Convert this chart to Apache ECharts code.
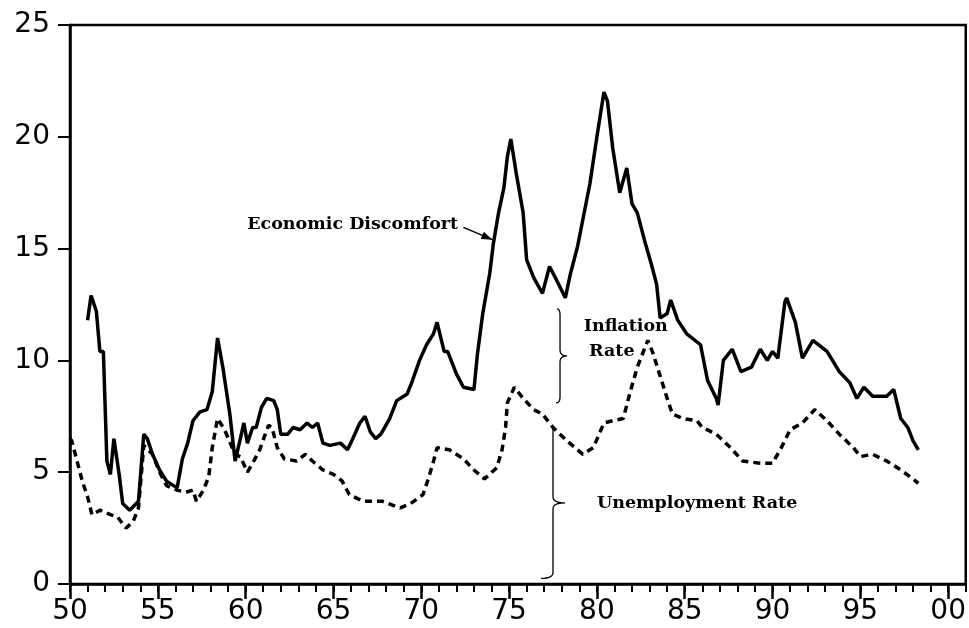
<!DOCTYPE html>
<html>
<head>
<meta charset="utf-8">
<script src="https://cdn.jsdelivr.net/npm/echarts@6/dist/echarts.min.js"></script>
<style>
  html, body { margin: 0; padding: 0; background: #fff; }
  #chart { width: 969px; height: 628px; }
</style>
</head>
<body>
<div id="chart"></div>
<script>
// Economic discomfort = inflation + unemployment (solid line)
const discYears = [51.0, 51.2, 51.5, 51.7, 51.9, 52.1, 52.3, 52.5, 52.8, 53.0, 53.4, 53.9, 54.2, 54.4, 54.7, 55.1, 55.5, 56.1, 56.4, 56.7, 57.0, 57.4, 57.8, 58.1, 58.4, 58.7, 59.1, 59.4, 59.7, 59.9, 60.1, 60.4, 60.6, 60.9, 61.2, 61.6, 61.8, 62.0, 62.4, 62.7, 63.1, 63.5, 63.8, 64.1, 64.4, 64.8, 65.4, 65.8, 66.1, 66.5, 66.8, 67.1, 67.4, 67.7, 68.2, 68.6, 69.2, 69.5, 69.9, 70.3, 70.7, 70.9, 71.3, 71.5, 72.0, 72.4, 73.0, 73.2, 73.5, 73.9, 74.1, 74.4, 74.7, 74.9, 75.1, 75.4, 75.8, 76.0, 76.4, 76.9, 77.3, 77.7, 78.2, 78.5, 78.9, 79.2, 79.6, 80.0, 80.4, 80.6, 80.9, 81.3, 81.7, 82.0, 82.3, 82.7, 83.1, 83.4, 83.6, 84.0, 84.2, 84.6, 85.1, 85.9, 86.3, 86.8, 86.9, 87.2, 87.7, 88.2, 88.8, 89.3, 89.7, 90.0, 90.3, 90.7, 90.8, 91.3, 91.7, 92.3, 93.1, 93.8, 94.4, 94.8, 95.2, 95.7, 96.5, 96.9, 97.3, 97.7, 98.0, 98.3];
const discValues = [11.8, 12.9, 12.2, 10.4, 10.4, 5.5, 4.9, 6.5, 4.9, 3.6, 3.3, 3.7, 6.7, 6.5, 5.8, 5.1, 4.6, 4.3, 5.6, 6.3, 7.3, 7.7, 7.8, 8.6, 11.0, 9.7, 7.6, 5.5, 6.5, 7.2, 6.3, 7.0, 7.0, 7.9, 8.3, 8.2, 7.8, 6.7, 6.7, 7.0, 6.9, 7.2, 7.0, 7.2, 6.3, 6.2, 6.3, 6.0, 6.5, 7.2, 7.5, 6.8, 6.5, 6.7, 7.4, 8.2, 8.5, 9.1, 10.0, 10.7, 11.2, 11.7, 10.4, 10.4, 9.4, 8.8, 8.7, 10.3, 12.1, 13.9, 15.2, 16.6, 17.7, 19.1, 19.9, 18.4, 16.6, 14.5, 13.7, 13.0, 14.2, 13.6, 12.8, 13.9, 15.1, 16.3, 17.9, 20.0, 22.0, 21.6, 19.5, 17.5, 18.6, 17.0, 16.6, 15.4, 14.3, 13.4, 11.9, 12.1, 12.7, 11.8, 11.2, 10.7, 9.1, 8.3, 8.0, 10.0, 10.5, 9.5, 9.7, 10.5, 10.0, 10.4, 10.1, 12.6, 12.8, 11.7, 10.1, 10.9, 10.4, 9.5, 9.0, 8.3, 8.8, 8.4, 8.4, 8.7, 7.4, 7.0, 6.4, 6.0];

// Unemployment rate (dashed line)
const unempYears = [50.0, 50.1, 50.4, 50.7, 51.0, 51.25, 51.7, 52.3, 52.7, 53.2, 53.6, 53.9, 54.2, 54.7, 55.1, 55.5, 56.1, 56.6, 57.0, 57.2, 57.6, 57.9, 58.1, 58.4, 58.8, 59.4, 59.7, 60.1, 60.4, 60.8, 61.3, 61.5, 61.8, 62.2, 62.9, 63.4, 63.8, 64.4, 65.0, 65.5, 65.9, 66.7, 67.8, 68.8, 69.4, 70.1, 70.4, 70.7, 70.9, 71.6, 72.4, 73.0, 73.6, 74.3, 74.6, 74.8, 74.9, 75.3, 75.8, 76.4, 76.9, 77.5, 78.3, 79.2, 79.8, 80.4, 80.9, 81.5, 81.9, 82.3, 82.9, 83.2, 83.6, 84.0, 84.3, 84.9, 85.7, 86.0, 86.8, 87.6, 88.3, 89.3, 90.0, 90.5, 91.0, 91.7, 92.4, 93.1, 93.8, 94.6, 95.0, 95.7, 96.5, 97.3, 98.0, 98.3];
const unempValues = [6.5, 6.4, 5.5, 4.6, 3.9, 3.1, 3.3, 3.1, 3.0, 2.5, 2.8, 3.4, 6.2, 5.8, 5.0, 4.4, 4.2, 4.1, 4.2, 3.7, 4.2, 4.8, 6.1, 7.4, 6.9, 5.8, 5.7, 5.0, 5.4, 6.0, 7.1, 7.0, 6.1, 5.6, 5.5, 5.8, 5.5, 5.1, 4.9, 4.6, 4.0, 3.7, 3.7, 3.4, 3.6, 4.0, 4.7, 5.5, 6.1, 6.0, 5.6, 5.1, 4.7, 5.2, 6.0, 7.0, 8.1, 8.8, 8.3, 7.8, 7.6, 7.0, 6.4, 5.8, 6.1, 7.2, 7.3, 7.4, 8.6, 9.7, 10.9, 10.3, 9.3, 8.3, 7.6, 7.4, 7.3, 7.0, 6.7, 6.1, 5.5, 5.4, 5.4, 6.1, 6.9, 7.2, 7.8, 7.3, 6.7, 6.1, 5.7, 5.8, 5.5, 5.1, 4.7, 4.5];

const yTicks = [0, 5, 10, 15, 20, 25];

const chart = echarts.init(document.getElementById('chart'));

const pairs = (xs, ys) => xs.map((x, i) => [x, ys[i]]);
const labelFont = { fontSize: 28, fontFamily: 'DejaVu Sans', color: '#000' };

chart.setOption({
  animation: false,
  backgroundColor: '#fff',
  grid: {
    left: 70, right: 3, top: 25, bottom: 44,
    show: true, borderColor: '#000', borderWidth: 2.5
  },
  xAxis: [
    {
      // yearly minor ticks
      type: 'value', min: 50, max: 101, interval: 1,
      axisLine: { lineStyle: { color: '#000', width: 2.5 } },
      axisTick: { length: 8, lineStyle: { color: '#000', width: 2 } },
      axisLabel: { show: false },
      splitLine: { show: false }
    },
    {
      // 5-year major ticks with labels
      type: 'value', min: 50, max: 101, interval: 5, position: 'bottom',
      axisLine: { show: false },
      axisTick: { length: 15, lineStyle: { color: '#000', width: 2.5 } },
      axisLabel: {
        ...labelFont, margin: 14, showMaxLabel: false,
        formatter: v => (v % 5 === 0 ? String(v % 100).padStart(2, '0') : '')
      },
      splitLine: { show: false }
    }
  ],
  yAxis: {
    type: 'value', min: 0, max: 25, interval: 5,
    axisLine: { show: true, lineStyle: { color: '#000', width: 2.5 } },
    axisTick: { show: true, length: 12, lineStyle: { color: '#000', width: 2 } },
    axisLabel: { ...labelFont, margin: 20, customValues: yTicks },
    splitLine: { show: false }
  },
  series: [
    {
      name: 'Economic Discomfort', type: 'line',
      data: pairs(discYears, discValues),
      showSymbol: false, silent: true,
      lineStyle: { color: '#000', width: 3.5 }
    },
    {
      name: 'Unemployment Rate', type: 'line',
      data: pairs(unempYears, unempValues),
      showSymbol: false, silent: true,
      lineStyle: { color: '#000', width: 3.5, type: [7, 5] }
    }
  ]
});

// annotations, anchored in data coordinates
const px = p => chart.convertToPixel({ gridIndex: 0 }, p);
const textFont = { fontFamily: 'DejaVu Serif', fontWeight: 'bold', fontSize: 17.5, fill: '#000' };

function quad(p0, c, p1, n) {
  const out = [];
  for (let i = 1; i <= n; i++) {
    const t = i / n;
    out.push([
      (1 - t) * (1 - t) * p0[0] + 2 * (1 - t) * t * c[0] + t * t * p1[0],
      (1 - t) * (1 - t) * p0[1] + 2 * (1 - t) * t * c[1] + t * t * p1[1]
    ]);
  }
  return out;
}

// right-facing curly brace between two data points on one x
function brace(x, yTop, yBot, yMid, tip, curlTop, curlBot) {
  const a = px([x, yTop]), b = px([x, yBot]), m = px([x, yMid]);
  const X = a[0], r = 6;
  let pts = [[X - curlTop, a[1]]];
  pts = pts.concat(quad([X - curlTop, a[1]], [X, a[1]], [X, a[1] + r], 6));
  pts.push([X, m[1] - r]);
  pts = pts.concat(quad([X, m[1] - r], [X, m[1]], [X + tip, m[1]], 6));
  pts = pts.concat(quad([X + tip, m[1]], [X, m[1]], [X, m[1] + r], 6));
  pts.push([X, b[1] - r]);
  pts = pts.concat(quad([X, b[1] - r], [X, b[1]], [X - curlBot, b[1]], 6));
  return { type: 'polyline', shape: { points: pts }, style: { stroke: '#000', lineWidth: 1.3, fill: null } };
}

const arrowFrom = px([72.4, 15.95]);
const arrowTo = px([74.05, 15.4]);
const ang = Math.atan2(arrowTo[1] - arrowFrom[1], arrowTo[0] - arrowFrom[0]);
const head = [
  arrowTo,
  [arrowTo[0] - 11 * Math.cos(ang) + 4 * Math.sin(ang), arrowTo[1] - 11 * Math.sin(ang) - 4 * Math.cos(ang)],
  [arrowTo[0] - 11 * Math.cos(ang) - 4 * Math.sin(ang), arrowTo[1] - 11 * Math.sin(ang) + 4 * Math.cos(ang)]
];

const t1 = px([72.1, 16.1]);
const t2a = px([79.25, 11.5]);
const t2b = px([79.55, 10.38]);
const t3 = px([80.0, 3.6]);

chart.setOption({
  graphic: [
    { type: 'text', x: t1[0], y: t1[1], style: { ...textFont, text: 'Economic Discomfort', align: 'right', verticalAlign: 'middle' } },
    { type: 'line', shape: { x1: arrowFrom[0], y1: arrowFrom[1], x2: arrowTo[0], y2: arrowTo[1] }, style: { stroke: '#000', lineWidth: 1.5 } },
    { type: 'polygon', shape: { points: head }, style: { fill: '#000' } },
    { type: 'text', x: t2a[0], y: t2a[1], style: { ...textFont, text: 'Inflation', align: 'left', verticalAlign: 'middle' } },
    { type: 'text', x: t2b[0], y: t2b[1], style: { ...textFont, text: 'Rate', align: 'left', verticalAlign: 'middle' } },
    { type: 'text', x: t3[0], y: t3[1], style: { ...textFont, text: 'Unemployment Rate', align: 'left', verticalAlign: 'middle' } },
    brace(77.9, 12.3, 8.1, 10.2, 7, 3, 4),
    brace(77.5, 6.95, 0.25, 3.63, 12, 0, 12)
  ]
});
</script>
</body>
</html>
